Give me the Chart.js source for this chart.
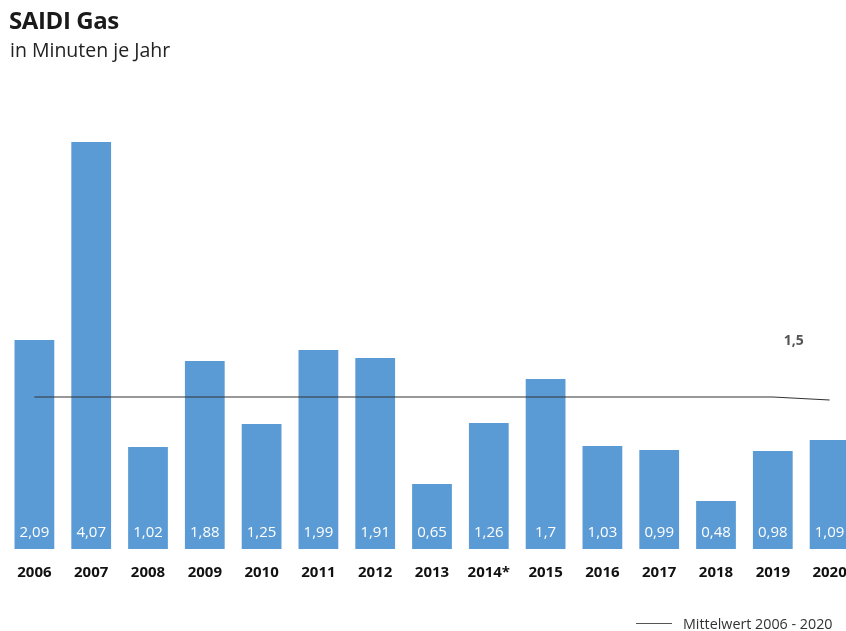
<!DOCTYPE html>
<html lang="de">
<head>
    <meta charset="UTF-8">
    <title>SAIDI Gas</title>
    <script src="https://cdn.jsdelivr.net/npm/chart.js@4"></script>
    <style>
        html, body { margin: 0; padding: 0; background: #fff; overflow: hidden; }
        body { width: 846px; height: 631px; position: relative; font-family: "Open Sans", sans-serif; }
        .title { position: absolute; left: 9px; top: 3px; font-size: 24px; font-weight: bold; color: #1a1a1a; letter-spacing: -0.4px; }
        .subtitle { position: absolute; left: 10px; top: 36px; font-size: 19.5px; color: #222; }
        #wrap { position: absolute; left: 0; top: 0; width: 860px; height: 631px; }
        .legend { position: absolute; left: 636px; top: 614px; font-size: 14.3px; color: #333; display: flex; align-items: center; }
        .legend span.line { display: inline-block; width: 36px; height: 0; border-top: 1.3px solid #555; margin-right: 11px; }
    </style>
</head>
<body>
    <div id="wrap"><canvas id="chart"></canvas></div>
    <div class="title">SAIDI Gas</div>
    <div class="subtitle">in Minuten je Jahr</div>
    <div class="legend"><span class="line"></span>Mittelwert 2006 - 2020</div>

    <script>
        // data
        const years = ['2006', '2007', '2008', '2009', '2010', '2011', '2012', '2013', '2014*', '2015', '2016', '2017', '2018', '2019', '2020'];
        const saidi = [2.09, 4.07, 1.02, 1.88, 1.25, 1.99, 1.91, 0.65, 1.26, 1.7, 1.03, 0.99, 0.48, 0.98, 1.09];
        const mean = [1.52, 1.52, 1.52, 1.52, 1.52, 1.52, 1.52, 1.52, 1.52, 1.52, 1.52, 1.52, 1.52, 1.52, 1.49];
        const meanLabel = '1,5';

        const fmt = v => String(v).replace('.', ',');

        // white value labels at the foot of each bar + mean label
        const labelPlugin = {
            id: 'labels',
            afterDatasetsDraw(chart) {
                const ctx = chart.ctx;
                const bars = chart.getDatasetMeta(1).data;
                const y = chart.scales.y;
                ctx.save();
                ctx.font = '15px "Open Sans", sans-serif';
                ctx.fillStyle = '#fff';
                ctx.textAlign = 'center';
                ctx.textBaseline = 'middle';
                bars.forEach((b, i) => {
                    ctx.fillText(fmt(saidi[i]), b.x, y.getPixelForValue(0) - 16);
                });
                ctx.font = 'bold 14px "Open Sans", sans-serif';
                ctx.fillStyle = '#555';
                const x13 = chart.scales.x.getPixelForValue(13);
                ctx.fillText(meanLabel, x13 + 21, y.getPixelForValue(mean[13]) - 56);
                ctx.restore();
            }
        };

        new Chart(document.getElementById('chart'), {
            data: {
                labels: years,
                datasets: [{
                    type: 'line',
                    data: mean,
                    borderColor: '#333',
                    borderWidth: 1.2,
                    pointRadius: 0,
                    tension: 0,
                    order: 0
                }, {
                    type: 'bar',
                    data: saidi,
                    backgroundColor: '#5b9bd5',
                    barPercentage: 0.70,
                    categoryPercentage: 1,
                    order: 1
                }]
            },
            options: {
                responsive: true,
                maintainAspectRatio: false,
                animation: false,
                layout: { padding: { left: 6, right: 2, top: 99, bottom: 42 } },
                plugins: { legend: { display: false }, tooltip: { enabled: false } },
                scales: {
                    x: {
                        grid: { display: false },
                        border: { display: false },
                        ticks: { color: '#111', font: { family: 'Open Sans', size: 15, weight: 'bold' }, padding: 7, maxRotation: 0 }
                    },
                    y: {
                        display: false,
                        min: 0,
                        max: 4.5
                    }
                }
            },
            plugins: [labelPlugin]
        });
    </script>
</body>
</html>
